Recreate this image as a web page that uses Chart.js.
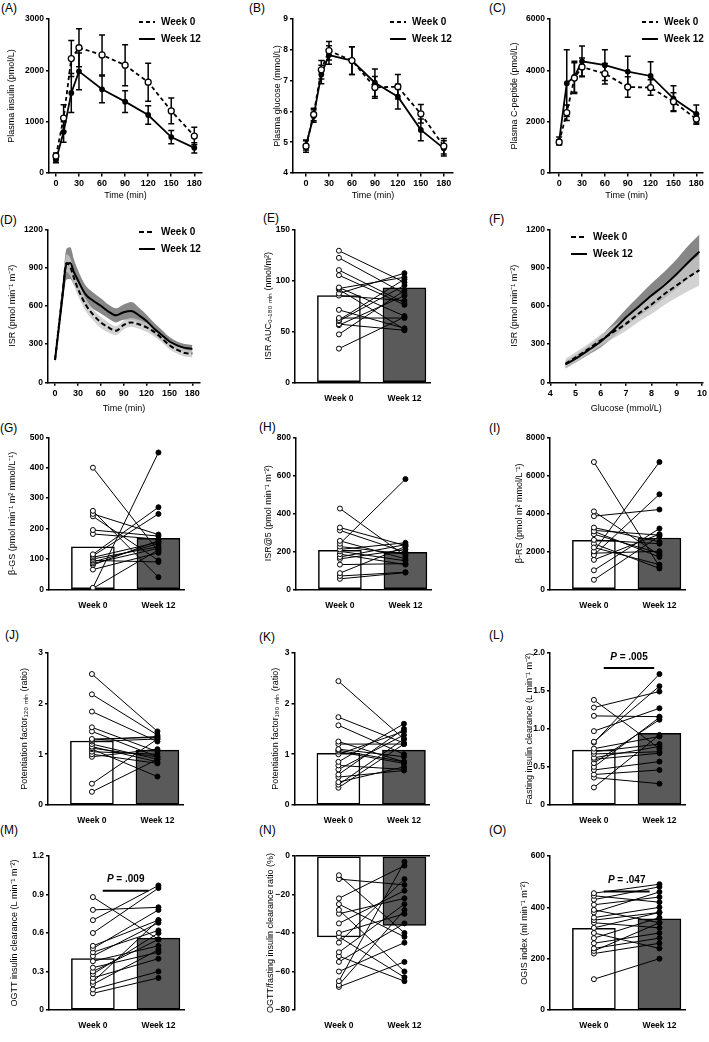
<!DOCTYPE html>
<html>
<head>
<meta charset="utf-8">
<script src="https://cdn.jsdelivr.net/npm/chart.js@4.4.1/dist/chart.umd.min.js"></script>
<style>
body { margin: 0; background: #fff; width: 709px; height: 1042px; position: relative; overflow: hidden; font-family: "Liberation Sans", Arial, sans-serif; }
canvas { position: absolute; }
.tag { position: absolute; font-size: 12px; line-height: 1; color: #000; }
</style>
</head>
<body>
<div class="tag" style="left:1px;top:2px">(A)</div>
<div class="tag" style="left:249px;top:2px">(B)</div>
<div class="tag" style="left:489px;top:2px">(C)</div>
<div class="tag" style="left:0px;top:214px">(D)</div>
<div class="tag" style="left:263px;top:212px">(E)</div>
<div class="tag" style="left:489px;top:213px">(F)</div>
<div class="tag" style="left:0px;top:422px">(G)</div>
<div class="tag" style="left:259px;top:421px">(H)</div>
<div class="tag" style="left:489px;top:422px">(I)</div>
<div class="tag" style="left:5px;top:629px">(J)</div>
<div class="tag" style="left:259px;top:631px">(K)</div>
<div class="tag" style="left:489px;top:629px">(L)</div>
<div class="tag" style="left:0px;top:824px">(M)</div>
<div class="tag" style="left:259px;top:824px">(N)</div>
<div class="tag" style="left:489px;top:824px">(O)</div>
<script>
// ---- data ----
const ogttTimes = [0, 10, 20, 30, 60, 90, 120, 150, 180];
const timeTicks = [0, 30, 60, 90, 120, 150, 180];
const groups = ['Week 0', 'Week 12'];

// (A) plasma insulin, pmol/L
const insulinW0 = [330, 1070, 2230, 2440, 2300, 2100, 1770, 1210, 720];
const insulinW0Err = [60, 260, 350, 370, 390, 400, 370, 250, 170];
const insulinW12 = [250, 800, 1560, 1980, 1630, 1390, 1130, 700, 490];
const insulinW12Err = [50, 200, 380, 360, 260, 210, 180, 130, 100];

// (B) plasma glucose, mmol/L
const glucoseW0 = [4.87, 5.9, 7.35, 7.97, 7.65, 6.78, 6.8, 5.92, 4.87];
const glucoseW0Err = [0.2, 0.2, 0.3, 0.3, 0.45, 0.35, 0.4, 0.3, 0.25];
const glucoseW12 = [4.9, 5.85, 7.2, 7.83, 7.65, 6.93, 6.48, 5.4, 4.8];
const glucoseW12Err = [0.15, 0.2, 0.3, 0.3, 0.45, 0.45, 0.4, 0.35, 0.25];

// (C) plasma C-peptide, pmol/L
const cpepW0 = [1200, 2350, 3700, 4130, 3870, 3350, 3330, 2780, 2100];
const cpepW0Err = [100, 300, 600, 350, 400, 400, 300, 350, 200];
const cpepW12 = [1250, 3500, 3750, 4350, 4200, 3950, 3780, 2900, 2300];
const cpepW12Err = [150, 1300, 600, 600, 600, 600, 550, 500, 350];

// (D) ISR over time
const isrTimes = [0, 5, 10, 15, 20, 25, 30, 40, 50, 60, 70, 80, 90, 100, 110, 120, 130, 140, 150, 160, 170, 180];
const isrW0 = [175, 440, 700, 935, 905, 815, 735, 610, 530, 470, 430, 405, 450, 470, 455, 430, 395, 345, 290, 255, 230, 225];
const isrW0Hi = [195, 480, 755, 1005, 975, 875, 790, 660, 575, 515, 470, 440, 485, 505, 490, 465, 430, 375, 320, 285, 260, 255];
const isrW0Lo = [155, 400, 645, 865, 835, 755, 680, 560, 485, 425, 390, 370, 415, 435, 420, 395, 360, 315, 260, 225, 200, 195];
const isrW12 = [175, 430, 690, 925, 935, 860, 800, 690, 640, 600, 555, 525, 550, 560, 525, 480, 420, 370, 320, 290, 270, 262];
const isrW12Hi = [200, 485, 775, 1045, 1060, 960, 880, 760, 705, 660, 610, 580, 610, 630, 585, 530, 465, 410, 355, 320, 300, 292];
const isrW12Lo = [150, 375, 605, 805, 810, 760, 720, 620, 575, 540, 500, 470, 490, 490, 465, 430, 375, 330, 285, 260, 240, 232];

// (F) ISR vs glucose
const doseGlucose = [4.6, 5, 5.5, 6, 6.5, 7, 7.5, 8, 8.5, 9, 9.5, 9.9];
const doseW0 = [145, 195, 260, 330, 395, 460, 540, 610, 690, 760, 830, 880];
const doseW0Hi = [185, 235, 300, 375, 445, 515, 605, 685, 775, 855, 940, 1000];
const doseW0Lo = [105, 155, 220, 285, 345, 405, 475, 535, 605, 665, 720, 760];
const doseW12 = [140, 185, 250, 320, 410, 510, 595, 680, 760, 850, 950, 1025];
const doseW12Hi = [170, 215, 285, 365, 465, 575, 675, 775, 865, 965, 1080, 1160];
const doseW12Lo = [110, 155, 215, 275, 355, 445, 515, 585, 655, 735, 820, 885];

// paired panels: individual values week 0 / week 12 and group means
const aucW0 = [129, 122, 110, 105, 93, 92, 91, 87, 85, 71, 63, 61, 60, 57, 56, 47, 33];
const aucW12 = [98, 87, 78, 76, 65, 103, 52, 107, 80, 53, 63, 101, 95, 51, 85, 90, 64];
const aucMean = [85, 92.5];

const bgsW0 = [400, 258, 248, 240, 195, 182, 115, 110, 105, 100, 95, 90, 85, 80, 65, 5, 3];
const bgsW12 = [125, 40, 180, 95, 175, 165, 270, 248, 155, 140, 90, 150, 135, 160, 120, 450, 130];
const bgsMean = [140, 168];

const isr5W0 = [425, 325, 310, 255, 240, 225, 210, 200, 185, 170, 160, 130, 85, 70, 55];
const isr5W12 = [175, 230, 195, 160, 580, 185, 245, 150, 130, 235, 210, 135, 225, 90, 88];
const isr5Mean = [205, 195];

const brsW0 = [6700, 4100, 3850, 3250, 3050, 2900, 2600, 2200, 2000, 1800, 1550, 1000, 500, 2400, 1900, 3100];
const brsW12 = [1200, 1800, 4200, 2500, 1700, 1900, 2400, 1300, 6700, 5000, 2900, 3200, 2800, 1100, 2000, 2850];
const brsMean = [2580, 2700];

const pf120W0 = [2.58, 2.18, 1.84, 1.53, 1.45, 1.3, 1.28, 1.25, 1.2, 1.15, 1.12, 1.1, 1.05, 1.0, 0.95, 0.42, 0.26];
const pf120W12 = [1.45, 1.38, 1.25, 1.05, 0.95, 1.33, 1.35, 1.3, 0.9, 0.85, 0.95, 0.56, 1.0, 0.82, 1.1, 1.3, 0.9];
const pf120Mean = [1.26, 1.08];

const pf180W0 = [2.44, 1.73, 1.57, 1.25, 1.2, 1.1, 1.08, 1.05, 1.0, 0.85, 0.78, 0.7, 0.6, 0.55, 0.45, 0.4, 0.34];
const pf180W12 = [1.3, 1.22, 1.0, 0.85, 1.2, 0.95, 0.85, 0.82, 1.45, 1.6, 0.7, 1.38, 1.5, 0.68, 0.75, 1.3, 1.2];
const pf180Mean = [1.02, 1.08];

const fastClW0 = [1.38, 1.28, 1.17, 0.97, 0.83, 0.82, 0.74, 0.7, 0.67, 0.62, 0.6, 0.55, 0.5, 0.46, 0.4, 0.36, 0.23];
const fastClW12 = [0.74, 1.49, 1.16, 1.27, 1.56, 1.72, 0.9, 0.8, 0.7, 0.77, 0.68, 1.12, 1.15, 0.57, 0.46, 0.28, 0.92];
const fastClMean = [0.72, 0.94];

const ogttClW0 = [0.88, 0.78, 0.7, 0.6, 0.5, 0.48, 0.45, 0.42, 0.38, 0.33, 0.3, 0.28, 0.25, 0.22, 0.2, 0.16, 0.13];
const ogttClW12 = [0.55, 0.8, 0.97, 0.95, 0.7, 0.78, 0.62, 0.68, 0.5, 0.45, 0.55, 0.6, 0.4, 0.7, 0.47, 0.3, 0.25];
const ogttClMean = [0.40, 0.56];

const ratioW0 = [-10, -12, -22, -25, -28, -30, -35, -40, -42, -45, -50, -52, -55, -60, -65, -67, -68];
const ratioW12 = [-40, -15, -5, -42, -60, -22, -18, -30, -63, -12, -25, -65, -35, -45, -3, -28, -55];
const ratioMean = [-42, -36];

const ogisW0 = [455, 445, 430, 410, 390, 380, 360, 350, 340, 320, 300, 280, 260, 240, 230, 220, 120];
const ogisW12 = [490, 420, 480, 440, 340, 460, 400, 380, 320, 380, 240, 360, 300, 280, 340, 260, 200];
const ogisMean = [318, 355];

// ---- layout ----
const FONT = '"Liberation Sans", Arial, sans-serif';
Chart.defaults.font.family = FONT;
Chart.defaults.color = '#000';
Chart.defaults.animation = false;
Chart.defaults.plugins.legend.display = false;
Chart.defaults.plugins.tooltip.enabled = false;

const rows = [
  {top: 0, h: 205, chartTop: 19, chartBottom: 173, xH: 28.4},
  {top: 205, h: 210, chartTop: 229.3, chartBottom: 382.3, xH: 32},
  {top: 415, h: 205, chartTop: 437.3, chartBottom: 589.3, xH: 20},
  {top: 620, h: 205, chartTop: 652.7, chartBottom: 805, xH: 20},
  {top: 825, h: 217, chartTop: 856, chartBottom: 1010, xH: 20}
];
const cols = [{left: 0, w: 236}, {left: 236, w: 236}, {left: 472, w: 237}];

function place(r, c, axisX, right, titleX) {
  const R = rows[r], C = cols[c];
  const cv = document.createElement('canvas');
  cv.width = C.w; cv.height = R.h;
  cv.style.left = C.left + 'px'; cv.style.top = R.top + 'px';
  document.body.appendChild(cv);
  const padLeft = titleX - C.left - 5.4;
  return {
    ctx: cv.getContext('2d'),
    padding: {left: padLeft, top: R.chartTop - R.top, right: C.left + C.w - right, bottom: R.top + R.h - R.chartBottom - R.xH},
    yW: axisX - C.left - padLeft,
    xH: R.xH, left: C.left, top: R.top
  };
}

// ---- plugins ----
const errPlugin = {
  id: 'err',
  beforeDatasetsDraw(chart) {
    const ctx = chart.ctx, xs = chart.scales.x, ys = chart.scales.y;
    chart.data.datasets.forEach(ds => {
      if (!ds.errors) return;
      ctx.save();
      ctx.strokeStyle = '#000'; ctx.lineWidth = 1.5;
      ds.data.forEach((p, j) => {
        const e = ds.errors[j];
        const px = xs.getPixelForValue(p.x);
        const y1 = ys.getPixelForValue(p.y + e), y2 = ys.getPixelForValue(p.y - e);
        ctx.beginPath();
        ctx.moveTo(px, y1); ctx.lineTo(px, y2);
        ctx.moveTo(px - 3, y1); ctx.lineTo(px + 3, y1);
        ctx.moveTo(px - 3, y2); ctx.lineTo(px + 3, y2);
        ctx.stroke();
      });
      ctx.restore();
    });
  }
};

const keyPlugin = {
  id: 'key',
  afterDraw(chart, args, o) {
    if (!o || !o.items) return;
    const ctx = chart.ctx;
    ctx.save();
    o.items.forEach((di, k) => {
      const ds = chart.data.datasets[di];
      const y = o.y + k * 17;
      ctx.strokeStyle = '#000'; ctx.lineWidth = 2;
      ctx.setLineDash(ds.borderDash || []);
      ctx.beginPath(); ctx.moveTo(o.x, y); ctx.lineTo(o.x + 16, y); ctx.stroke();
      ctx.setLineDash([]);
      ctx.fillStyle = '#000'; ctx.font = 'bold 10px ' + FONT; ctx.textBaseline = 'middle';
      ctx.fillText(ds.label, o.x + 22, y);
    });
    ctx.restore();
  }
};

const sigPlugin = {
  id: 'sig',
  afterDatasetsDraw(chart, args, o) {
    if (!o || !o.text) return;
    const ctx = chart.ctx, xs = chart.scales.x, ys = chart.scales.y;
    const x1 = xs.getPixelForValue(o.from), x2 = xs.getPixelForValue(o.to), y = ys.getPixelForValue(o.at);
    ctx.save();
    ctx.strokeStyle = '#000'; ctx.lineWidth = 2;
    ctx.beginPath(); ctx.moveTo(x1, y); ctx.lineTo(x2, y); ctx.stroke();
    ctx.fillStyle = '#000'; ctx.textBaseline = 'middle';
    const pFont = 'italic bold 10px ' + FONT, rFont = 'bold 10px ' + FONT;
    ctx.font = pFont; const wp = ctx.measureText('P').width;
    ctx.font = rFont; const wr = ctx.measureText(' = ' + o.text).width;
    let x = (x1 + x2) / 2 - (wp + wr) / 2;
    ctx.font = pFont; ctx.fillText('P', x, y - 11);
    ctx.font = rFont; ctx.fillText(' = ' + o.text, x + wp, y - 11);
    ctx.restore();
  }
};

// ---- axis builders ----
function yAxis(g, min, max, step, title, fmt) {
  return {
    min: min, max: max,
    ticks: {stepSize: step, font: {size: 8.5, weight: 'bold'}, padding: 2, callback: fmt || (v => v)},
    grid: {drawOnChartArea: false, tickLength: 3, color: '#000', lineWidth: 1.5},
    border: {color: '#000', width: 1.5},
    title: {display: true, text: title, font: {size: 9}, padding: 0},
    afterFit: s => { s.width = g.yW; }
  };
}

function xNumAxis(g, min, max, ticks, title) {
  return {
    type: 'linear', min: min, max: max, offset: false,
    afterBuildTicks: s => { s.ticks = ticks.map(v => ({value: v})); },
    ticks: {font: {size: 9, weight: 'bold'}, padding: 2, maxRotation: 0, autoSkip: false},
    grid: {drawOnChartArea: false, offset: false, tickLength: 3.5, color: '#000', lineWidth: 1.5},
    border: {color: '#000', width: 1.5},
    title: {display: true, text: title, font: {size: 9}, padding: 0},
    afterFit: s => { s.height = g.xH; }
  };
}

function xGroupAxis(g, showBorder) {
  return {
    type: 'linear', min: 0.33, max: 2.39, offset: false,
    afterBuildTicks: s => { s.ticks = groups.map((n, i) => ({value: i + 1})); },
    ticks: {font: {size: 8.5, weight: 'bold'}, padding: 3, maxRotation: 0, autoSkip: false,
      callback: v => groups[v - 1]},
    grid: {display: false, offset: false},
    border: {display: showBorder, color: '#000', width: 1.5},
    afterFit: s => { s.height = g.xH; }
  };
}

// ---- (A)-(C) OGTT time courses ----
function pts(xs, ys) { return xs.map((x, i) => ({x: x, y: ys[i]})); }

function ogttPanel(r, c, axisX, right, titleX, xMin, xMax, w0, w0e, w12, w12e, y, key) {
  const g = place(r, c, axisX, right, titleX);
  new Chart(g.ctx, {
    type: 'line',
    data: {datasets: [
      {label: 'Week 0', data: pts(ogttTimes, w0), errors: w0e, borderColor: '#000', borderWidth: 1.8,
        borderDash: [4, 3], pointRadius: 3, pointBackgroundColor: '#fff', pointBorderColor: '#000', pointBorderWidth: 1.3},
      {label: 'Week 12', data: pts(ogttTimes, w12), errors: w12e, borderColor: '#000', borderWidth: 1.8,
        pointRadius: 2, pointBackgroundColor: '#000', pointBorderColor: '#000'}
    ]},
    options: {
      responsive: false, layout: {padding: g.padding},
      scales: {x: xNumAxis(g, xMin, xMax, timeTicks, 'Time (min)'), y: yAxis(g, y[0], y[1], y[2], y[3])},
      plugins: {key: {items: [0, 1], x: key[0] - g.left, y: key[1] - g.top}}
    },
    plugins: [errPlugin, keyPlugin]
  });
}

ogttPanel(0, 0, 49, 202, 12, -9, 190, insulinW0, insulinW0Err, insulinW12, insulinW12Err,
  [0, 3000, 1000, 'Plasma insulin (pmol/L)'], [139, 22]);
ogttPanel(0, 1, 293, 453, 278, -17, 192, glucoseW0, glucoseW0Err, glucoseW12, glucoseW12Err,
  [4, 9, 1, 'Plasma glucose (mmol/L)'], [390, 22]);
ogttPanel(0, 2, 550, 704, 515, -12, 189, cpepW0, cpepW0Err, cpepW12, cpepW12Err,
  [0, 6000, 2000, 'Plasma C-peptide (pmol/L)'], [642, 22]);

// ---- (D), (F) modelled ISR with confidence bands ----
function bandPanel(r, c, axisX, right, titleX, xs, xAxisCfg, w0, w0Hi, w0Lo, w12, w12Hi, w12Lo, key) {
  const g = place(r, c, axisX, right, titleX);
  const curve = {tension: 0.4, cubicInterpolationMode: 'monotone', pointRadius: 0};
  new Chart(g.ctx, {
    type: 'line',
    data: {datasets: [
      Object.assign({label: 'Week 0', data: pts(xs, w0), borderColor: '#000', borderWidth: 2, borderDash: [5, 3], order: 0}, curve),
      Object.assign({label: 'Week 12', data: pts(xs, w12), borderColor: '#000', borderWidth: 2, order: 0}, curve),
      Object.assign({data: pts(xs, w0Hi), borderWidth: 0, fill: '+1', backgroundColor: 'rgba(200,200,200,0.8)', order: 5}, curve),
      Object.assign({data: pts(xs, w0Lo), borderWidth: 0, fill: false, order: 5}, curve),
      Object.assign({data: pts(xs, w12Hi), borderWidth: 0, fill: '+1', backgroundColor: 'rgba(105,105,105,0.8)', order: 6}, curve),
      Object.assign({data: pts(xs, w12Lo), borderWidth: 0, fill: false, order: 6}, curve)
    ]},
    options: {
      responsive: false, layout: {padding: g.padding},
      scales: {x: xAxisCfg(g), y: yAxis(g, 0, 1200, 300, 'ISR (pmol min\u207B\u00B9 m\u207B\u00B2)')},
      plugins: {key: {items: [0, 1], x: key[0] - g.left, y: key[1] - g.top}}
    },
    plugins: [keyPlugin]
  });
}

bandPanel(1, 0, 48, 200, 13, isrTimes, g => xNumAxis(g, -9.2, 190, timeTicks, 'Time (min)'),
  isrW0, isrW0Hi, isrW0Lo, isrW12, isrW12Hi, isrW12Lo, [139, 232]);
bandPanel(1, 2, 550, 706, 515, doseGlucose, g => xNumAxis(g, 3.99, 10.02, [4, 5, 6, 7, 8, 9, 10], 'Glucose (mmol/L)'),
  doseW0, doseW0Hi, doseW0Lo, doseW12, doseW12Hi, doseW12Lo, [571, 237]);

// ---- paired before/after panels ----
function pairedPanel(r, c, axisX, titleX, w0, w12, means, y, sig, zeroLine) {
  const g = place(r, c, axisX, axisX + 135, titleX);
  const datasets = [{
    type: 'bar', data: means.map((v, i) => ({x: i + 1, y: v})),
    backgroundColor: ['#fff', '#5a5a5a'], borderColor: '#000', borderWidth: 1.5,
    borderSkipped: false, barThickness: 43, order: 10
  }];
  w0.forEach((v, i) => datasets.push({
    type: 'line', data: [{x: 1, y: v}, {x: 2, y: w12[i]}],
    borderColor: '#000', borderWidth: 1, pointRadius: 2.5,
    pointBackgroundColor: ['#fff', '#000'], pointBorderColor: '#000', pointBorderWidth: 1, order: 1
  }));
  const yCfg = yAxis(g, y[0], y[1], y[2], y[3], y[4]);
  if (zeroLine) {
    yCfg.grid = {drawOnChartArea: true, tickLength: 3, lineWidth: 1.5, tickColor: '#000',
      color: ctx => ctx.tick && ctx.tick.value === 0 ? '#000' : 'rgba(0,0,0,0)'};
  }
  new Chart(g.ctx, {
    type: 'bar',
    data: {datasets: datasets},
    options: {
      responsive: false, layout: {padding: g.padding},
      scales: {x: xGroupAxis(g, !zeroLine), y: yCfg},
      plugins: {sig: sig || {}}
    },
    plugins: [sigPlugin]
  });
}

const oneDec = v => v === 0 ? '0' : v.toFixed(1);
const minusFmt = v => v < 0 ? '\u2212' + Math.abs(v) : String(v);

pairedPanel(1, 1, 295, 269, aucW0, aucW12, aucMean,
  [0, 150, 50, 'ISR AUC\u2080\u208B\u2081\u2088\u2080 \u2098\u1D62\u2099 (nmol/m\u00B2)']);
pairedPanel(2, 0, 49, 13, bgsW0, bgsW12, bgsMean,
  [0, 500, 100, '\u03B2-GS (pmol min\u207B\u00B9 m\u00B2 mmol/L\u207B\u00B9)']);
pairedPanel(2, 1, 296, 269, isr5W0, isr5W12, isr5Mean,
  [0, 800, 200, 'ISR@5 (pmol min\u207B\u00B9 m\u207B\u00B2)']);
pairedPanel(2, 2, 550, 520, brsW0, brsW12, brsMean,
  [0, 8000, 2000, '\u03B2-RS (pmol m\u00B2 mmol/L\u207B\u00B9)']);
pairedPanel(3, 0, 48, 25, pf120W0, pf120W12, pf120Mean,
  [0, 3, 1, 'Potentiation factor\u2081\u2082\u2080 \u2098\u1D62\u2099 (ratio)']);
pairedPanel(3, 1, 294.5, 276, pf180W0, pf180W12, pf180Mean,
  [0, 3, 1, 'Potentiation factor\u2081\u2088\u2080 \u2098\u1D62\u2099 (ratio)']);
pairedPanel(3, 2, 550, 530, fastClW0, fastClW12, fastClMean,
  [0, 2, 0.5, 'Fasting insulin clearance (L min\u207B\u00B9 m\u207B\u00B2)', oneDec],
  {from: 1.15, to: 1.92, at: 1.8, text: '.005'});
pairedPanel(4, 0, 49, 15, ogttClW0, ogttClW12, ogttClMean,
  [0, 1.2, 0.3, 'OGTT insulin clearance (L min\u207B\u00B9 m\u207B\u00B2)', oneDec],
  {from: 1.15, to: 1.85, at: 0.93, text: '.009'});
pairedPanel(4, 1, 295, 271, ratioW0, ratioW12, ratioMean,
  [-80, 0, 20, 'OGTT/fasting insulin clearance ratio (%)', minusFmt], null, true);
pairedPanel(4, 2, 550, 525, ogisW0, ogisW12, ogisMean,
  [0, 600, 200, 'OGIS index (ml min\u207B\u00B9 m\u207B\u00B2)'],
  {from: 1.15, to: 1.85, at: 462, text: '.047'});
</script>
</body>
</html>
